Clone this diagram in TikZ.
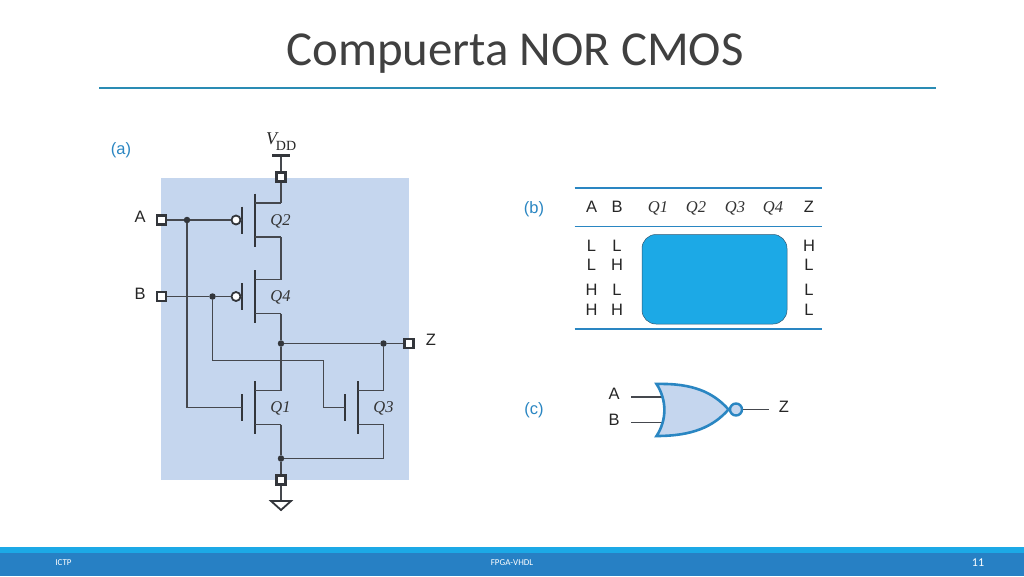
\documentclass[tikz,border=0pt]{standalone}
\usepackage{fontspec}
\setmainfont{Liberation Sans}
\newfontfamily\titlefont{Carlito}
\newfontfamily\timesfont{Liberation Serif}
\definecolor{panelblue}{HTML}{C5D6EE}
\definecolor{wirecol}{HTML}{33363B}
\definecolor{wiresoft}{HTML}{45484E}
\definecolor{accent}{HTML}{2A86C2}
\definecolor{barlight}{HTML}{1CA9E6}
\definecolor{bardark}{HTML}{2780C4}
\definecolor{titlecol}{HTML}{404040}
\definecolor{rulecol}{HTML}{2A8CB4}
\tikzset{
  wire/.style={draw=wiresoft,line width=1.6pt},
  heavy/.style={draw=wirecol,line width=2.1pt},
  pinbox/.style={draw=wirecol,fill=white,line width=2.1pt,minimum size=9pt,inner sep=0pt,rectangle},
  junction/.style={fill=wirecol,circle,minimum size=6.5pt,inner sep=0pt},
  bubble/.style={draw=wirecol,fill=white,line width=1.8pt,circle,minimum size=9pt,inner sep=0pt},
  lbl/.style={font=\fontsize{16.5}{16.5}\selectfont,text=black!85,inner sep=0pt},
  qlbl/.style={font=\timesfont\itshape\fontsize{16.5}{16.5}\selectfont,text=black!80,inner sep=0pt},
  part/.style={font=\fontsize{16.5}{16.5}\selectfont,text=accent,inner sep=0pt},
  foot/.style={font=\titlefont\fontsize{9}{9}\selectfont,text=white,inner sep=0pt},
  trule/.style={draw=accent,line width=2.1pt},
}
% name, channel x, centre y, outer x
\newcommand{\mosfet}[4]{%
  \coordinate (#1-d) at (#4,#3-17);
  \coordinate (#1-s) at (#4,#3+17);
  \coordinate (#1-g) at (#2-13,#3);
  \draw[heavy] (#2,#3-26.5) -- (#2,#3+26.5);
  \draw[heavy] (#2-13,#3-13.5) -- (#2-13,#3+13.5);
  \draw[wire] (#2,#3-17) -- (#1-d);
  \draw[wire] (#2,#3+17) -- (#1-s);
}
\begin{document}
\begin{tikzpicture}[x=1pt,y=-1pt]
\useasboundingbox (0,0) rectangle (1024,576);
\fill[white] (0,0) rectangle (1024,576);
% title
\node[font=\titlefont\fontsize{48.8}{48.8}\selectfont,text=titlecol,inner sep=0pt] (title) at (515,54) {Compuerta NOR CMOS};
\coordinate (ruleL) at (99,88);
\coordinate (ruleR) at (936,88);
\draw[draw=rulecol,line width=1.6pt] (ruleL) -- (ruleR);
% footer
\fill[barlight] (0,547) rectangle (1024,553);
\fill[bardark] (0,553) rectangle (1024,576);
\node[foot] (ictp) at (63.5,562.5) {ICTP};
\node[foot] (fpga) at (512,562.5) {FPGA-VHDL};
\node[foot,font=\titlefont\fontsize{12}{12}\selectfont] (pageno) at (978,562.5) {11};
% panel (a)
\fill[panelblue] (161,177.5) rectangle (409,480);
\node[part] (la) at (121,150.5) {(a)};
\mosfet{q2}{255.3}{220}{281}
\mosfet{q4}{255.3}{296.5}{281}
\mosfet{q1}{255.3}{407.5}{281}
\mosfet{q3}{358}{407.5}{383.5}
\node[qlbl] (lq2) at (280.5,221) {Q2};
\node[qlbl] (lq4) at (280.5,297.5) {Q4};
\node[qlbl] (lq1) at (280.5,408.5) {Q1};
\node[qlbl] (lq3) at (383.5,408.5) {Q3};
% pins and junctions
\coordinate (vddbar) at (281,155.5);
\coordinate (gndtop) at (281,501);
\draw[wire] (vddbar) -- (281,177);
\draw[wire] (281,177) -- (q2-d);
\draw[wire] (q2-s) -- (q4-d);
\draw[wire] (281,480) -- (gndtop);
\node[pinbox] (vddpin) at (281,177) {};
\node[pinbox] (gndpin) at (281,480) {};
\node[pinbox] (apin) at (161.5,220) {};
\node[pinbox] (bpin) at (161.5,296.5) {};
\node[pinbox] (zpin) at (409,343.5) {};
\node[junction] (ja) at (187,220) {};
\node[junction] (jb) at (212.5,296.5) {};
\node[junction] (jz) at (281,343.5) {};
\node[junction] (jz2) at (383.5,343.5) {};
\node[junction] (jg) at (281,458.5) {};
\node[bubble] (b2) at (236,220) {};
\node[bubble] (b4) at (236,296.5) {};
% wires
\draw[heavy] (272,155.5) -- (290,155.5);
\draw[wire] (q4-s) -- (jz);
\draw[wire] (jz) -- (q1-d);
\draw[wire] (q1-s) -- (jg);
\draw[wire] (jg) -- (gndpin);
\draw[wire] (apin) -- (ja);
\draw[wire] (ja) -- (b2);
\draw[wire] (bpin) -- (jb);
\draw[wire] (jb) -- (b4);
\draw[wire] (b2) -- (q2-g);
\draw[wire] (b4) -- (q4-g);
\draw[wire] (ja) |- (q1-g);
\draw[wire] (jb) |- (323.5,360.5) |- (q3-g);
\draw[wire] (jz) -- (jz2);
\draw[wire] (jz2) -- (zpin);
\draw[wire] (jz2) -- (q3-d);
\draw[wire] (q3-s) |- (jg);
\draw[draw=wirecol,line width=1.8pt,line join=miter] (271,501) -- (291,501) -- (281,510) -- cycle;
\node[lbl] (ta) at (140,217) {A};
\node[lbl] (tb) at (140,294) {B};
\node[lbl] (tz) at (431,339.5) {Z};
\node[font=\timesfont\itshape\fontsize{18}{18}\selectfont,text=black!85,inner sep=0pt] (tv) at (271.5,139) {V};
\node[font=\timesfont\fontsize{14}{14}\selectfont,text=black!85,inner sep=0pt] (tdd) at (286,145.5) {DD};
% table (b)
\node[part] (lb) at (534,209) {(b)};
\coordinate (r1l) at (574.5,188);   \coordinate (r1r) at (822,188);
\coordinate (r2l) at (574.5,226.5); \coordinate (r2r) at (822,226.5);
\coordinate (r3l) at (574.5,329);   \coordinate (r3r) at (822,329);
\draw[trule] (r1l) -- (r1r);
\draw[draw=accent,line width=1.6pt] (r2l) -- (r2r);
\draw[trule] (r3l) -- (r3r);
\node[draw=wirecol!60!accent,line width=0.5pt,fill=barlight,rounded corners=14pt,minimum width=145pt,minimum height=89.5pt,inner sep=0pt] (cover) at (714.5,279.25) {};
\node[lbl] (ha) at (591.5,207) {A};
\node[lbl] (hb) at (617,207) {B};
\node[qlbl] (h1) at (658,208) {Q1};
\node[qlbl] (h2) at (696,208) {Q2};
\node[qlbl] (h3) at (735,208) {Q3};
\node[qlbl] (h4) at (773,208) {Q4};
\node[lbl] (hz) at (809,207) {Z};
\node[lbl] (a1) at (591.5,246) {L};  \node[lbl] (b1) at (617,246) {L};  \node[lbl] (z1) at (809,246) {H};
\node[lbl] (a2) at (591.5,265) {L};  \node[lbl] (b2t) at (617,265) {H}; \node[lbl] (z2) at (809,265) {L};
\node[lbl] (a3) at (591.5,290) {H};  \node[lbl] (b3) at (617,290) {L};  \node[lbl] (z3) at (809,290) {L};
\node[lbl] (a4) at (591.5,310) {H};  \node[lbl] (b4t) at (617,310) {H}; \node[lbl] (z4) at (809,310) {L};
% gate (c)
\node[part] (lc) at (534,410) {(c)};
\coordinate (ina) at (631,397);
\coordinate (inb) at (631,422.5);
\coordinate (ga) at (663,397);
\coordinate (gb) at (663,422.5);
\coordinate (zend) at (769,409.5);
\draw[wire] (ina) -- (ga);
\draw[wire] (inb) -- (gb);
\draw[draw=accent,line width=2.6pt,fill=panelblue,line join=miter]
  (656.5,384) .. controls (692,383) and (713,392) .. (728.5,409.5)
  .. controls (713,427) and (692,436) .. (656.5,436)
  .. controls (667,420) and (667,400) .. cycle;
\node[draw=accent,fill=panelblue,line width=2.4pt,circle,minimum size=12pt,inner sep=0pt] (nb) at (736,409.5) {};
\draw[wire] (nb) -- (zend);
\node[lbl] (ca) at (614,394) {A};
\node[lbl] (cb) at (614,419.5) {B};
\node[lbl] (cz) at (784,406.5) {Z};
\end{tikzpicture}
\end{document}
